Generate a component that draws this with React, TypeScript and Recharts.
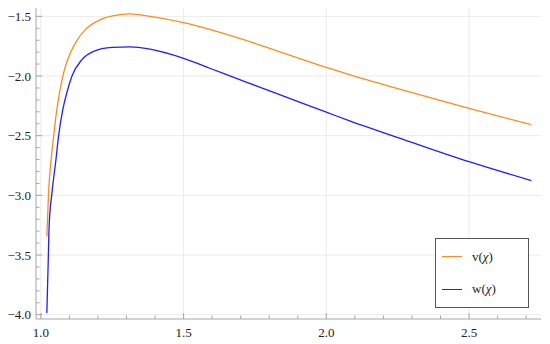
import {
  LineChart,
  Line,
  XAxis,
  YAxis,
  ReferenceLine,
  Legend,
} from "recharts";

// v(chi)
const vX = [1.021, 1.027, 1.036, 1.045, 1.056, 1.077, 1.094, 1.121, 1.156, 1.208, 1.278, 1.313, 1.383, 1.5, 1.594, 1.71, 1.804, 2.0, 2.084, 2.294, 2.5, 2.718];
const vY = [-3.344, -2.977, -2.698, -2.503, -2.28, -2.0, -1.862, -1.722, -1.611, -1.528, -1.486, -1.48, -1.5, -1.553, -1.611, -1.695, -1.77, -1.928, -1.99, -2.135, -2.272, -2.408];

// w(chi)
const wX = [1.021, 1.026, 1.029, 1.039, 1.053, 1.062, 1.077, 1.091, 1.109, 1.144, 1.185, 1.25, 1.313, 1.383, 1.5, 1.594, 1.71, 1.804, 2.0, 2.084, 2.294, 2.5, 2.718];
const wY = [-3.986, -3.534, -3.256, -2.977, -2.698, -2.503, -2.28, -2.14, -2.0, -1.862, -1.793, -1.76, -1.755, -1.775, -1.852, -1.937, -2.043, -2.127, -2.303, -2.378, -2.551, -2.718, -2.876];

const xTicks = [1.0, 1.1, 1.2, 1.3, 1.4, 1.5, 1.6, 1.7, 1.8, 1.9, 2.0, 2.1, 2.2, 2.3, 2.4, 2.5, 2.6, 2.7];
const yTicks = [-4.0, -3.9, -3.8, -3.7, -3.6, -3.5, -3.4, -3.3, -3.2, -3.1, -3.0, -2.9, -2.8, -2.7, -2.6, -2.5, -2.4, -2.3, -2.2, -2.1, -2.0, -1.9, -1.8, -1.7, -1.6, -1.5];
const xGrid = [1.0, 1.5, 2.0, 2.5];
const yGrid = [-4.0, -3.5, -3.0, -2.5, -2.0, -1.5];

const vData = vX.map((x, i) => ({ x, y: vY[i] }));
const wData = wX.map((x, i) => ({ x, y: wY[i] }));

const xDomain = [0.983, 2.752];
const yDomain = [-4.036, -1.43];

const FRAME = "#a6a6a6";
const FONT = "'Liberation Serif', 'Times New Roman', serif";
const labelStyle = { fontFamily: FONT, fontSize: 13, fill: "#222" };

const isMajor = (v: number) => Math.abs(v * 2 - Math.round(v * 2)) < 1e-6;
const fmt = (v: number) => (v < 0 ? "\u2212" : "") + Math.abs(v).toFixed(1);

function BottomTick(props: any) {
  const { x, y, payload } = props;
  const major = isMajor(payload.value);
  return (
    <g>
      <line x1={x} x2={x} y1={y} y2={y - (major ? 6 : 3.5)} stroke={FRAME} />
      {major && (
        <text x={x} y={y + 18} textAnchor="middle" style={labelStyle}>
          {fmt(payload.value)}
        </text>
      )}
    </g>
  );
}

function TopTick(props: any) {
  const { x, y, payload } = props;
  const major = isMajor(payload.value);
  return <line x1={x} x2={x} y1={y} y2={y + (major ? 6 : 3.5)} stroke={FRAME} />;
}

function LeftTick(props: any) {
  const { x, y, payload } = props;
  const major = isMajor(payload.value);
  return (
    <g>
      <line x1={x} x2={x + (major ? 6 : 3.5)} y1={y} y2={y} stroke={FRAME} />
      {major && (
        <text x={x - 5} y={y + 4.5} textAnchor="end" style={labelStyle}>
          {fmt(payload.value)}
        </text>
      )}
    </g>
  );
}

function RightTick(props: any) {
  const { x, y, payload } = props;
  const major = isMajor(payload.value);
  return <line x1={x} x2={x - (major ? 6 : 3.5)} y1={y} y2={y} stroke={FRAME} />;
}

function LegendBox() {
  const row = (color: string, name: string, top: number) => (
    <div style={{ position: "absolute", left: 0, top, height: 0, width: "100%" }}>
      <div style={{ position: "absolute", left: 6, top: -0.5, width: 20, height: 1.3, background: color }} />
      <div style={{ position: "absolute", left: 36, top: -9, lineHeight: "18px", fontFamily: FONT, fontSize: 13, color: "#222" }}>
        {name}(<i>{"\u03c7"}</i>)
      </div>
    </div>
  );
  return (
    <div
      style={{
        position: "relative",
        width: 94,
        height: 70,
        border: "1px solid #555",
        background: "#fff",
        boxSizing: "border-box",
      }}
    >
      {row("#ff8c1a", "v", 17.5)}
      {row("#1f1fff", "w", 50)}
    </div>
  );
}

export default function App() {
  return (
    <div style={{ position: "absolute", left: 0, top: 0, background: "#fff" }}>
      <LineChart width={550} height={344} margin={{ top: 8, right: 9, bottom: 0, left: 0 }}>
        <XAxis
          dataKey="x"
          type="number"
          domain={xDomain}
          ticks={xTicks}
          interval={0}
          allowDataOverflow
          height={25}
          tickSize={0}
          tickMargin={0}
          tickLine={false}
          axisLine={{ stroke: FRAME }}
          tick={<BottomTick />}
        />
        <XAxis
          xAxisId="top"
          orientation="top"
          type="number"
          domain={xDomain}
          ticks={xTicks}
          interval={0}
          allowDataOverflow
          height={0}
          tickSize={0}
          tickMargin={0}
          tickLine={false}
          axisLine={{ stroke: FRAME }}
          tick={<TopTick />}
        />
        <YAxis
          type="number"
          domain={yDomain}
          ticks={yTicks}
          interval={0}
          allowDataOverflow
          width={36}
          tickSize={0}
          tickMargin={0}
          tickLine={false}
          axisLine={{ stroke: FRAME }}
          tick={<LeftTick />}
        />
        <YAxis
          yAxisId="right"
          orientation="right"
          type="number"
          domain={yDomain}
          ticks={yTicks}
          interval={0}
          allowDataOverflow
          width={0}
          tickSize={0}
          tickMargin={0}
          tickLine={false}
          axisLine={{ stroke: FRAME }}
          tick={<RightTick />}
        />
        {xGrid.map((v) => (
          <ReferenceLine key={"gx" + v} x={v} stroke="#ebebeb" />
        ))}
        {yGrid.map((v) => (
          <ReferenceLine key={"gy" + v} y={v} stroke="#ebebeb" />
        ))}
        <Line
          data={vData}
          dataKey="y"
          name="v"
          type="monotone"
          stroke="#ff8c1a"
          strokeWidth={1.3}
          dot={false}
          isAnimationActive={false}
        />
        <Line
          data={wData}
          dataKey="y"
          name="w"
          type="monotone"
          stroke="#1f1fff"
          strokeWidth={1.3}
          dot={false}
          isAnimationActive={false}
        />
        <Legend
          layout="vertical"
          align="center"
          verticalAlign="middle"
          content={<LegendBox />}
          wrapperStyle={{ left: 435, top: 238, width: 94, height: 70 }}
        />
      </LineChart>
    </div>
  );
}
